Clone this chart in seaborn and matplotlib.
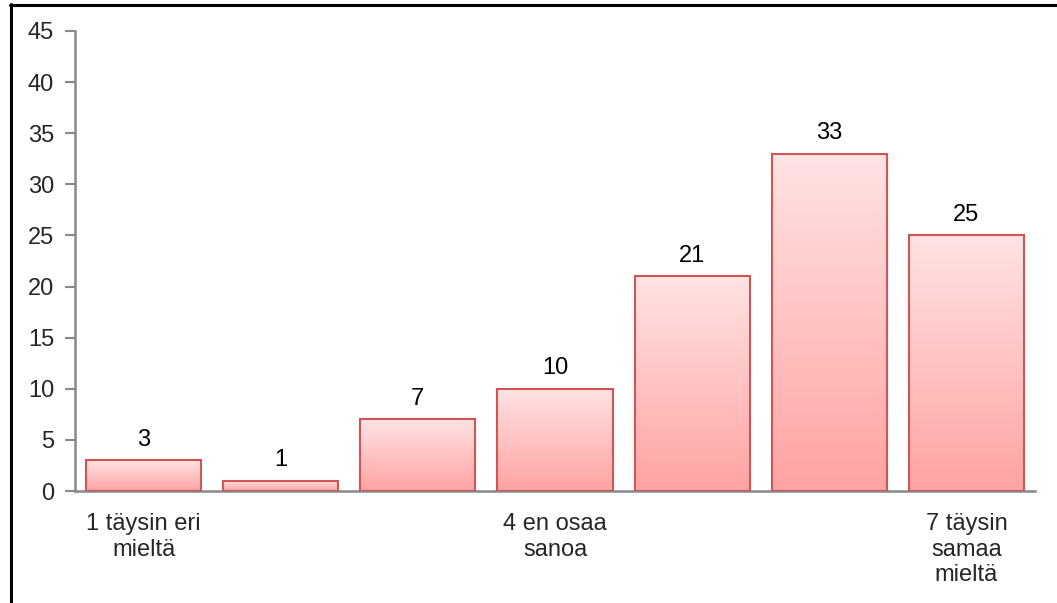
import numpy as np
import pandas as pd
import seaborn as sns
import matplotlib.pyplot as plt
from matplotlib.colors import LinearSegmentedColormap
from matplotlib.lines import Line2D

# Survey answers on a 1-7 scale
categories = ['1', '2', '3', '4', '5', '6', '7']
counts = [3, 1, 7, 10, 21, 33, 25]
tick_labels = ['1 täysin eri\nmieltä', '', '', '4 en osaa\nsanoa', '', '', '7 täysin\nsamaa\nmieltä']

df = pd.DataFrame({'answer': categories, 'count': counts})

sns.set_theme(style="white")
plt.rcParams['font.family'] = ['Liberation Sans', 'DejaVu Sans']

fig = plt.figure(figsize=(10.57, 6.03), dpi=100)
ax = fig.add_axes([75 / 1057, 1 - 491 / 603, 960 / 1057, 460 / 603])

sns.barplot(data=df, x='answer', y='count', width=0.84, ax=ax,
            color='#ffc0c0', edgecolor='#d05656', linewidth=1.5, zorder=3)

# gradient fill, light at the top of each bar, darker at the bottom
cmap = LinearSegmentedColormap.from_list('pinks', ['#ffa3a3', '#ffe3e3'])
grad = np.linspace(0, 1, 256).reshape(-1, 1)
for p in ax.patches:
    x, w, h = p.get_x(), p.get_width(), p.get_height()
    im = ax.imshow(grad, extent=[x, x + w, 0, h], origin='lower', aspect='auto',
                   cmap=cmap, zorder=2.5)
    im.set_clip_path(p)
    p.set_facecolor('none')

ax.set_xlim(-0.5, 6.5)
ax.set_ylim(0, 45)
ax.set_yticks(range(0, 46, 5))

# value labels above bars
for i, v in enumerate(counts):
    ax.annotate(str(v), (i, v), xytext=(0, 7), textcoords='offset points',
                ha='center', va='bottom', fontsize=17, color='black')

ax.set_xticks(range(len(categories)))
ax.set_xticklabels(tick_labels, fontsize=17, linespacing=1.2)
ax.tick_params(axis='x', length=0, pad=16)
ax.tick_params(axis='y', length=7, width=1.5, color='#888888', labelsize=17, pad=8, left=True)
ax.set_xlabel('')
ax.set_ylabel('')

for side in ['top', 'right']:
    ax.spines[side].set_visible(False)
for side in ['left', 'bottom']:
    ax.spines[side].set_color('#888888')
    ax.spines[side].set_linewidth(1.8)

# outer frame (only top and left are inside the picture)
fig.add_artist(Line2D([11 / 1057, 11 / 1057], [0, 1 - 4 / 603], color='black', lw=2.2, transform=fig.transFigure))
fig.add_artist(Line2D([10 / 1057, 1], [1 - 5 / 603, 1 - 5 / 603], color='black', lw=2.2, transform=fig.transFigure))

plt.savefig('out.png', dpi=100)
